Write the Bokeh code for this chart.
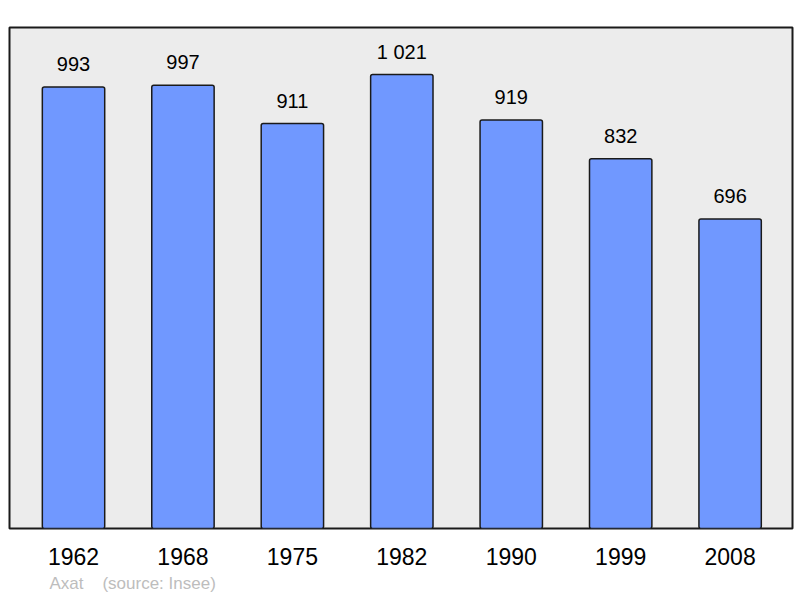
from bokeh.plotting import figure
from bokeh.models import ColumnDataSource, Range1d, FixedTicker, Title
from bokeh.core.properties import value
from bokeh.embed import file_html
from bokeh.resources import INLINE

years = ["1962", "1968", "1975", "1982", "1990", "1999", "2008"]
population = [993, 997, 911, 1021, 919, 832, 696]
value_labels = ["993", "997", "911", "1 021", "919", "832", "696"]
source_note = "Axat\u00a0\u00a0\u00a0\u00a0(source: Insee)"

xs = list(range(len(years)))
src = ColumnDataSource(dict(x=xs, top=population, lab=value_labels))

FONT = "Liberation Sans"

p = figure(width=800, height=598, output_backend="svg", toolbar_location=None,
           x_range=Range1d(-0.585, 6.57), y_range=Range1d(0, 1127),
           min_border_left=9, min_border_right=8, min_border_top=27, min_border_bottom=70)
p.background_fill_color = "#ececec"
p.border_fill_color = "white"
p.outline_line_color = "#1a1a1a"
p.outline_line_width = 2
p.xgrid.visible = False
p.ygrid.visible = False
p.yaxis.visible = False

ax = p.xaxis[0]
ax.ticker = FixedTicker(ticks=xs)
ax.major_label_overrides = {i: y for i, y in zip(xs, years)}
ax.axis_line_color = None
ax.major_tick_line_color = None
ax.minor_tick_line_color = None
ax.major_label_text_font = FONT
ax.major_label_text_font_size = "23px"
ax.major_label_text_color = "black"
ax.major_label_standoff = 13

p.vbar(x="x", top="top", width=0.57, bottom=0, source=src,
       fill_color="#7098ff", line_color="#1a1a1a", line_width=1.5, border_radius=2)

p.text(x="x", y="top", text="lab", source=src, text_align="center",
       text_baseline="alphabetic", y_offset=-23, text_font=value(FONT),
       text_font_size="20px", text_color="black")

note = Title(text=source_note, align="left", offset=40, standoff=8,
             text_font=FONT, text_font_size="17px", text_color="#bdbdbd",
             text_font_style="normal")
p.add_layout(note, "below")

open("out.html", "w").write(file_html(p, INLINE))
